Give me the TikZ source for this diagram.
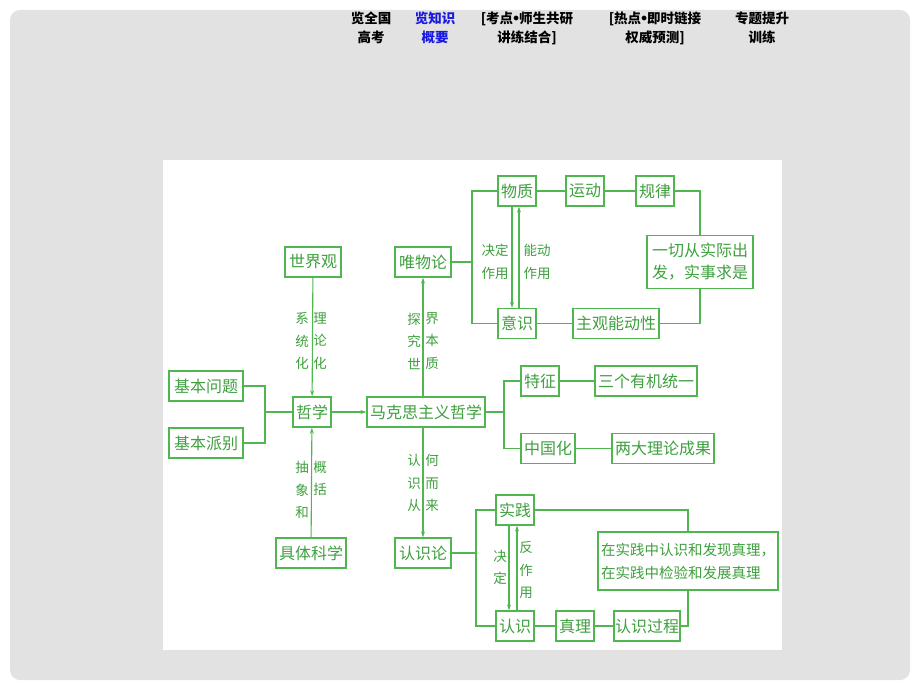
\documentclass[tikz,border=0pt]{standalone}
\usepackage{fontspec}
\usepackage{tikz}
\usetikzlibrary{arrows.meta, positioning}
\newfontfamily\cjk{Noto Sans CJK SC}
\newfontfamily\dejavu{DejaVu Sans}
\newcommand{\dotsep}{{\dejavu\bfseries\kern-0.1em•\kern-0.1em}}
\definecolor{lgreen}{RGB}{80,182,80}
\definecolor{tgreen}{RGB}{62,160,62}
\definecolor{bggray}{RGB}{226,226,226}
\definecolor{menublue}{RGB}{25,25,225}

\begin{document}
\begin{tikzpicture}[x=1pt,y=-1pt,line width=1.1pt,draw=lgreen,
  >={Stealth[length=6pt,width=4pt]}]
  \tikzstyle{box}=[draw=lgreen, line width=1.3pt, text=tgreen, inner xsep=5pt,
    minimum height=30pt, font=\cjk\fontsize{16}{22}\selectfont, align=center]
  \tikzstyle{lab}=[text=tgreen, inner sep=0pt, align=center,
    font=\cjk\fontsize{13.5}{22.5}\selectfont]
  \tikzstyle{menu}=[align=center, font=\cjk\bfseries\fontsize{13.5}{19}\selectfont]

  % page and panel
  \useasboundingbox (0,0) rectangle (920,690);
  \fill[white] (0,0) rectangle (920,690);
  \fill[bggray, rounded corners=10pt] (10,10) rectangle (910,680);
  \fill[white] (163,160) rectangle (782,650);

  % menu
  \node[menu] (quanguo) at (371,28) {览全国\\高考};
  \node[menu, text=menublue] (zhishi) at (435,28) {览知识\\概要};
  \node[menu] (kaodian) at (527,28) {[考点\dotsep 师生共研\\讲练结合]};
  \node[menu] (redian) at (655,28) {[热点\dotsep 即时链接\\权威预测]};
  \node[menu] (zhuanti) at (762,28) {专题提升\\训练};

  % left part
  \node[box] (wenti) at (206,386) {基本问题};
  \node[box] (paibie) at (206,443) {基本派别};
  \node[box, inner xsep=4pt] (shijieguan) at (313,262) {世界观};
  \node[box, inner xsep=3pt] (zhexue) at (312,412) {哲学};
  \node[box, inner xsep=3pt] (juti) at (311,553) {具体科学};
  \node[box, inner xsep=3pt] (makesi) at (426,412) {马克思主义哲学};
  \node[box, inner xsep=4pt] (weiwulun) at (423,262) {唯物论};
  \node[box, inner xsep=4pt] (renshilun) at (423,553) {认识论};

  % materialism
  \node[box, inner xsep=3pt] (wuzhi) at (517,191) {物质};
  \node[box, inner xsep=3pt] (yundong) at (585,191) {运动};
  \node[box, inner xsep=3pt] (guilv) at (655,191) {规律};
  \node[box, minimum height=53pt] (yiqie) at (700,262) {一切从实际出\\发，实事求是};
  \node[box, inner xsep=3pt] (yishi) at (517,323.5) {意识};
  \node[box, inner xsep=3pt] (zhuguan) at (616,323.5) {主观能动性};

  % features
  \node[box, inner xsep=3pt] (tezheng) at (540,381) {特征};
  \node[box, inner xsep=3pt] (sange) at (646,381) {三个有机统一};
  \node[box, inner xsep=3pt] (zhongguo) at (548,448.5) {中国化};
  \node[box, inner xsep=3pt] (liangda) at (663,448.5) {两大理论成果};

  % epistemology
  \node[box, inner xsep=3pt] (shijian) at (515,510) {实践};
  \node[box, inner xsep=3pt] (renshi) at (515,626) {认识};
  \node[box, inner xsep=3pt] (zhenli) at (575,626) {真理};
  \node[box, inner xsep=1pt] (guocheng) at (647,626) {认识过程};
  \node[box, font=\cjk\fontsize{14.5}{23}\selectfont, minimum height=58pt, inner xsep=3pt,
    align=left] (zaishijian) at (688,561)
    {在实践中认识和发现真理，\\在实践中检验和发展真理};

  % arrow labels
  \node[lab] (xitong) at (302,341) {系\\统\\化};
  \node[lab] (lilun) at (320,341) {理\\论\\化};
  \node[lab] (tanjiu) at (414,341) {探\\究\\世};
  \node[lab] (benzhi) at (432,341) {界\\本\\质};
  \node[lab] (chouxiang) at (302,490) {抽\\象\\和};
  \node[lab] (gaikuo) at (320,478.5) {概\\括};
  \node[lab] (renshicong) at (414,483) {认\\识\\从};
  \node[lab] (heerlai) at (432,483) {何\\而\\来};
  \node[lab] (jueding) at (495,262) {决定\\作用};
  \node[lab] (nengdong) at (537,262) {能动\\作用};
  \node[lab] (jueding2) at (500,567.5) {决\\定};
  \node[lab] (fanzuoyong) at (526,570) {反\\作\\用};

  % branch points
  \coordinate (jn) at (265,412);
  \coordinate (wb) at (472,262);
  \coordinate (mb) at (504,412);
  \coordinate (rb) at (476,553);

  % connectors
  \draw (wenti.east) -| (jn) |- (paibie.east);
  \draw (jn) -- (zhexue.west);
  \draw[->] (zhexue) -- (makesi);
  \draw[->] (shijieguan) -- (zhexue);
  \draw[->] (juti) -- (zhexue);
  \draw[->] (makesi.north -| weiwulun) -- (weiwulun.south);
  \draw[->] (makesi.south -| renshilun) -- (renshilun.north);

  \draw (weiwulun) -- (wb);
  \draw (wuzhi.west) -| (wb) |- (yishi.west);
  \draw (wuzhi) -- (yundong) -- (guilv);
  \draw (guilv.east) -| (yiqie.north);
  \draw (yiqie.south) |- (zhuguan.east);
  \draw (zhuguan) -- (yishi);
  \draw[->] ([xshift=-5pt]wuzhi.south) -- ([xshift=-5pt]yishi.north);
  \draw[->] ([xshift=2pt]yishi.north) -- ([xshift=2pt]wuzhi.south);

  \draw (makesi) -- (mb);
  \draw (tezheng.west) -| (mb) |- (zhongguo.west);
  \draw (tezheng) -- (sange);
  \draw (zhongguo) -- (liangda);

  \draw (renshilun) -- (rb);
  \draw (shijian.west) -| (rb) |- (renshi.west);
  \draw (renshi) -- (zhenli) -- (guocheng);
  \draw (shijian.east) -| (zaishijian.north);
  \draw (zaishijian.south) |- (guocheng.east);
  \draw[->] ([xshift=-6pt]shijian.south) -- ([xshift=-6pt]renshi.north);
  \draw[->] ([xshift=2pt]renshi.north) -- ([xshift=2pt]shijian.south);
\end{tikzpicture}
\end{document}
